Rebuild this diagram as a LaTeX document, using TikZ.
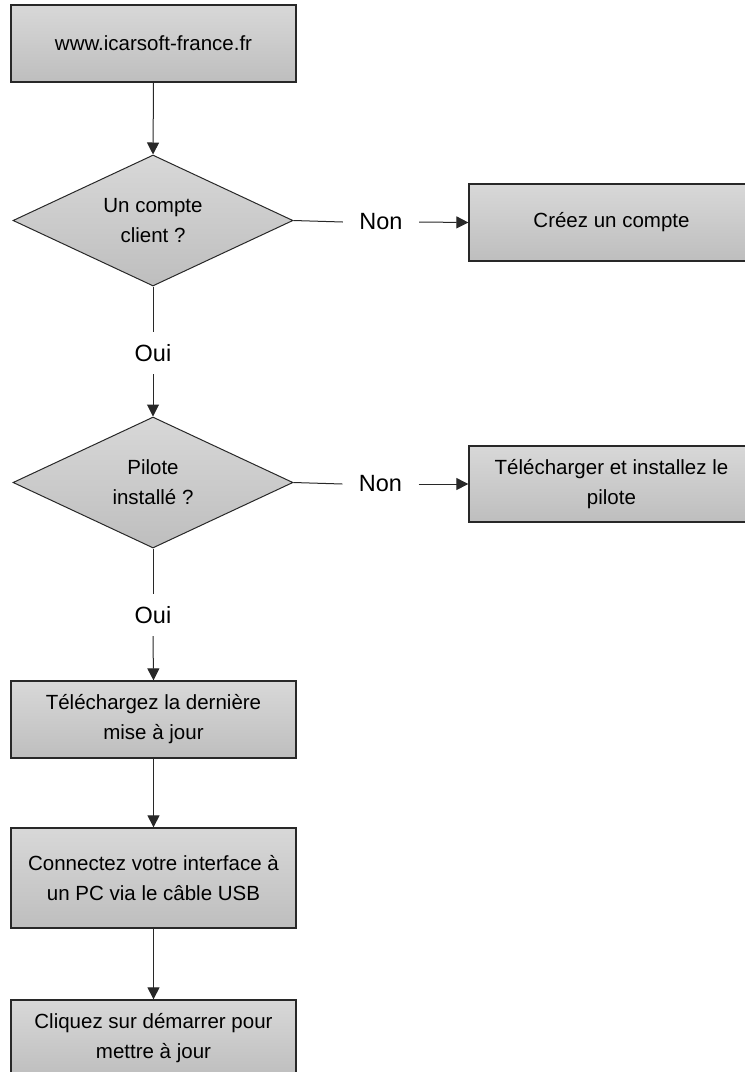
\documentclass[tikz,border=0pt]{standalone}
\usepackage{fontspec}
\setmainfont{Liberation Sans}
\usetikzlibrary{shapes.geometric,arrows.meta}
\definecolor{boxtop}{RGB}{216,216,216}
\definecolor{boxbot}{RGB}{190,190,190}
\definecolor{edgec}{RGB}{40,40,40}
\tikzset{
 box/.style={draw=edgec, line width=1.3pt, top color=boxtop, bottom color=boxbot, minimum width=285pt, inner sep=0pt, align=center, font=\fontsize{20.5}{30}\selectfont},
 decision/.style={diamond, draw=edgec, line width=1pt, top color=boxtop, bottom color=boxbot, minimum width=280pt, minimum height=131pt, inner sep=0pt, aspect=2.14, align=center, font=\fontsize{20.5}{30}\selectfont},
 hlbl/.style={inner sep=0pt, minimum width=76pt, font=\fontsize{23.5}{27}\selectfont},
 vlbl/.style={inner sep=0pt, minimum height=42pt, font=\fontsize{23.5}{27}\selectfont},
 conn/.style={draw=edgec, line width=1pt},
 arr/.style={conn, -{Triangle[length=12pt,width=12pt]}},
}
\begin{document}
\begin{tikzpicture}[x=1pt,y=-1pt]
\useasboundingbox (0,0) rectangle (745,1072);
\clip (0,0) rectangle (745,1072);
\node[box, minimum height=77pt] (b1) at (153.5,43.5) {www.icarsoft-france.fr};
\node[decision] (d1) at (153,220.5) {Un compte\\client ?};
\node[hlbl] (non1) at (381,222) {Non};
\node[box, minimum height=77pt] (b2) at (611.5,222.5) {Créez un compte};
\node[vlbl] (oui1) at (153,353) {Oui};
\node[decision] (d2) at (153,482.5) {Pilote\\installé ?};
\node[hlbl] (non2) at (380.5,484) {Non};
\node[box, minimum height=76pt] (b3) at (611.5,484) {Télécharger et installez le\\pilote};
\node[vlbl] (oui2) at (153,615) {Oui};
\node[box, minimum height=77pt] (b4) at (153.5,719.5) {Téléchargez la dernière\\mise à jour};
\node[box, minimum height=100pt] (b5) at (153.5,878) {Connectez votre interface à\\un PC via le câble USB};
\node[box, minimum height=77pt] (b6) at (153.5,1038.5) {Cliquez sur démarrer pour\\mettre à jour};
\draw[arr] (b1.south) -- (d1.north);
\draw[conn] (d1.east) -- (non1.west);
\draw[arr] (non1.east) -- (b2.west);
\draw[conn] (d1.south) -- (oui1.north);
\draw[arr] (oui1.south) -- (d2.north);
\draw[conn] (d2.east) -- (non2.west);
\draw[arr] (non2.east) -- (b3.west);
\draw[conn] (d2.south) -- (oui2.north);
\draw[arr] (oui2.south) -- (b4.north);
\draw[arr] (b4.south) -- (b5.north);
\draw[arr] (b5.south) -- (b6.north);
\end{tikzpicture}
\end{document}
